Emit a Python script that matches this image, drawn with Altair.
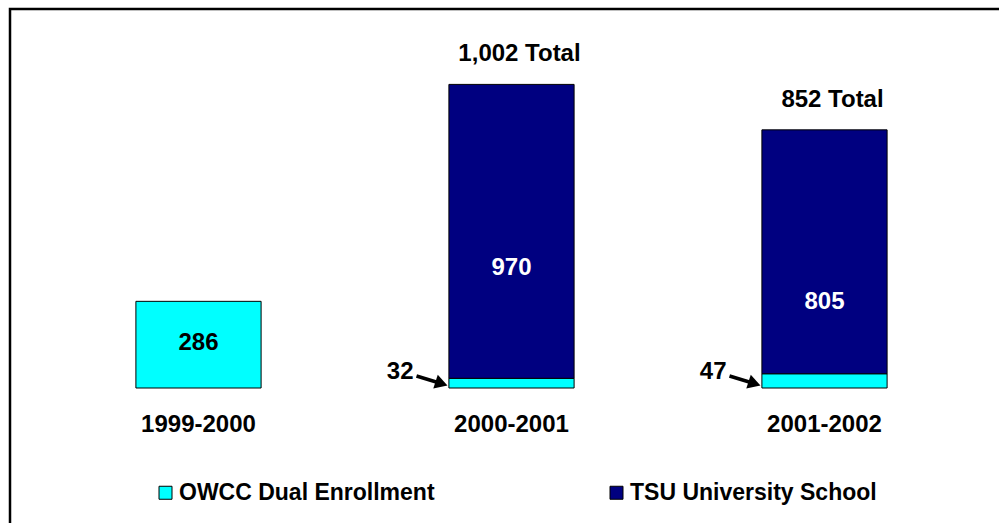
import altair as alt
import pandas as pd

# ---- data ----
years = ["1999-2000", "2000-2001", "2001-2002"]
series = ["OWCC Dual Enrollment", "TSU University School"]
owcc = [286, 32, 47]
tsu = [0, 970, 805]
series_colors = ["#00FFFF", "#000080"]
# where the in-bar value labels sit (data units)
inside_label_at = [148, 396, 284]
inside_label_series = [series[0], series[1], series[1]]
inside_label_text = ["286", "970", "805"]
# years whose small OWCC value is called out with an arrow
callout_years = ["2000-2001", "2001-2002"]

FONT = "Liberation Sans"
FS = 24

# ---- tables ----
rows = []
for y, a, b in zip(years, owcc, tsu):
    if a > 0:
        rows.append({"year": y, "series": series[0], "value": a, "order": 0})
    if b > 0:
        rows.append({"year": y, "series": series[1], "value": b, "order": 1})
bars_df = pd.DataFrame(rows)

inside_df = pd.DataFrame({
    "year": years,
    "series": inside_label_series,
    "at": inside_label_at,
    "label": inside_label_text,
})

totals_df = pd.DataFrame([
    {"year": y, "total": a + b, "label": f"{a + b:,} Total"}
    for y, a, b in zip(years, owcc, tsu) if b > 0
])

callout_df = pd.DataFrame([
    {"year": y, "label": str(a)}
    for y, a in zip(years, owcc) if y in callout_years
])

cat_df = pd.DataFrame({"year": years})

x_scale = alt.Scale(domain=years, range=[42, 981], paddingInner=0.6, paddingOuter=0.3)
y_scale = alt.Scale(domain=[0, 1000], range=[388, 85], nice=False, zero=True)

X = alt.X("year:N", scale=x_scale, axis=None)

bars = alt.Chart(bars_df).mark_bar(stroke="black", strokeWidth=1).encode(
    x=X,
    y=alt.Y("value:Q", stack="zero", scale=y_scale, axis=None),
    order=alt.Order("order:Q"),
    color=alt.Color(
        "series:N",
        scale=alt.Scale(domain=series, range=series_colors),
        legend=alt.Legend(
            orient="none", legendX=154, legendY=481, direction="horizontal",
            title=None, symbolType="square", symbolSize=169,
            symbolStrokeColor="black", symbolStrokeWidth=1,
            labelFont=FONT, labelFontSize=23, labelFontWeight="bold",
            labelColor="black", labelLimit=600, labelOffset=2,
            columnPadding=170, padding=0,
        ),
    ),
)

inside = alt.Chart(inside_df).mark_text(
    font=FONT, fontSize=FS, fontWeight="bold", baseline="middle", align="center"
).encode(
    x=X,
    y=alt.Y("at:Q", scale=y_scale, axis=None),
    text="label:N",
    color=alt.condition(alt.datum.series == series[0], alt.value("black"), alt.value("white")),
)

totals = alt.Chart(totals_df).mark_text(
    font=FONT, fontSize=FS, fontWeight="bold", baseline="middle", align="center",
    dx=8, dy=-30, color="black"
).encode(
    x=X,
    y=alt.Y("total:Q", scale=y_scale, axis=None),
    text="label:N",
)

cats = alt.Chart(cat_df).mark_text(
    font=FONT, fontSize=FS, fontWeight="bold", baseline="middle", align="center",
    color="black"
).encode(
    x=X,
    y=alt.value(425),
    text="year:N",
)

callout_text = alt.Chart(callout_df).mark_text(
    font=FONT, fontSize=FS, fontWeight="bold", baseline="middle", align="right",
    dx=-98, dy=-16, color="black"
).encode(
    x=X,
    y=alt.Y(datum=0, scale=y_scale, axis=None),
    text="label:N",
)

arrow_line = alt.Chart(callout_df).mark_rule(
    color="black", strokeWidth=3.5, xOffset=-95, x2Offset=-72, yOffset=-12, y2Offset=-5
).encode(
    x=X,
    x2=alt.X2("year:N"),
    y=alt.Y(datum=0, scale=y_scale, axis=None),
    y2=alt.Y2(datum=0),
)

arrow_head = alt.Chart(callout_df).mark_point(
    shape="triangle-right", filled=True, color="black", opacity=1,
    size=210, angle=18, xOffset=-70, yOffset=-4.5
).encode(
    x=X,
    y=alt.Y(datum=0, scale=y_scale, axis=None),
)

frame = alt.Chart(pd.DataFrame({"f": [0]})).mark_rect(
    filled=False, stroke="black", strokeWidth=2.5
).encode(
    x=alt.value(10), x2=alt.value(1015), y=alt.value(9), y2=alt.value(540)
)

chart = alt.layer(
    frame, bars, inside, totals, cats, callout_text, arrow_line, arrow_head
).properties(
    width=999, height=523, padding=0, autosize=alt.AutoSizeParams(type="none"),
    background="white",
).configure_view(stroke=None)

chart.save("out.html", embed_options={"renderer": "svg", "actions": False})
